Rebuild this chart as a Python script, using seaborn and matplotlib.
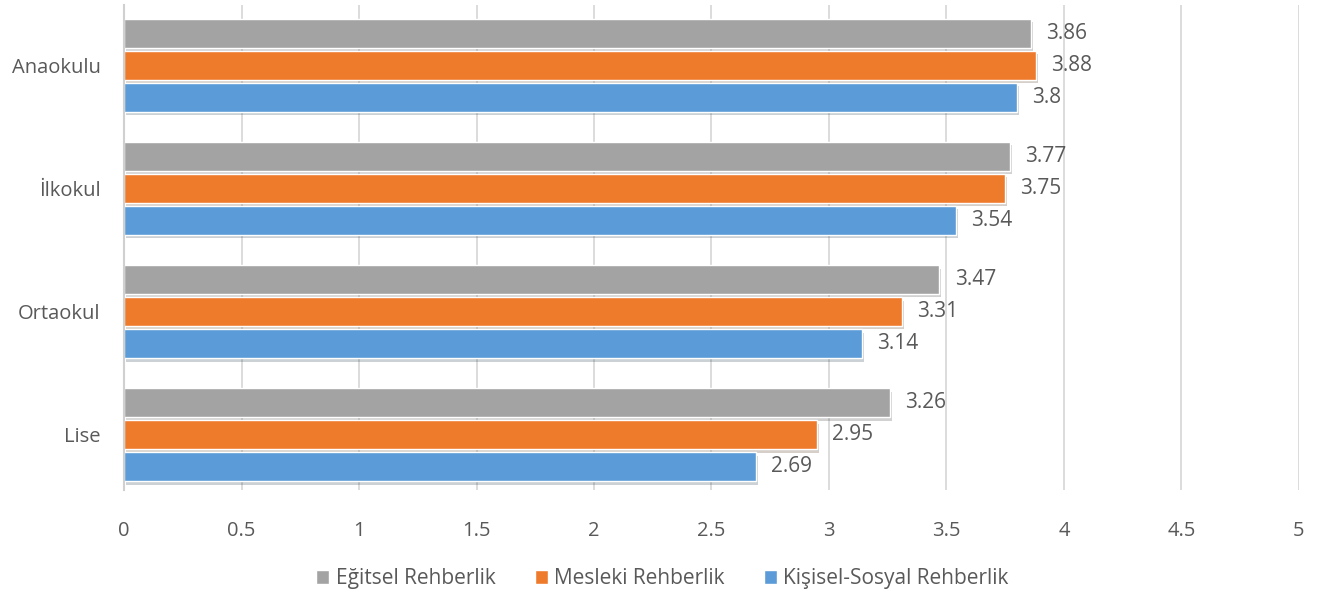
import matplotlib
matplotlib.use("Agg")
import matplotlib.pyplot as plt
import matplotlib.patheffects as pe
import seaborn as sns
import pandas as pd

# data
levels = ["Anaokulu", "İlkokul", "Ortaokul", "Lise"]
series = ["Eğitsel Rehberlik", "Mesleki Rehberlik", "Kişisel-Sosyal Rehberlik"]
egitsel = [3.86, 3.77, 3.47, 3.26]
mesleki = [3.88, 3.75, 3.31, 2.95]
kisisel = [3.80, 3.54, 3.14, 2.69]
x_ticks = [0, 0.5, 1, 1.5, 2, 2.5, 3, 3.5, 4, 4.5, 5]
x_ticklabels = ["0", "0.5", "1", "1.5", "2", "2.5", "3", "3.5", "4", "4.5", "5"]

colors = ["#A3A3A3", "#EE7A2C", "#5A9BD8"]

df = pd.DataFrame({
    "level": levels * 3,
    "series": [series[0]] * 4 + [series[1]] * 4 + [series[2]] * 4,
    "value": egitsel + mesleki + kisisel,
})

sns.set_style("white")
plt.rcParams["font.family"] = ["Open Sans", "DejaVu Sans"]
text_color = "#595959"

fig = plt.figure(figsize=(13.2, 5.95), dpi=100)
ax = fig.add_axes([0.094, 0.176, 0.890, 0.816])

sns.barplot(data=df, x="value", y="level", hue="series", order=levels,
            hue_order=series, palette=colors, orient="h", width=0.78,
            saturation=1, gap=0.1, ax=ax, legend=True)

for bars in ax.containers:
    for b in bars:
        b.set_path_effects([pe.SimplePatchShadow(offset=(1.5, -2.5), alpha=0.22), pe.Normal()])
    ax.bar_label(bars, labels=[f"{v:g}" for v in bars.datavalues], padding=11,
                 fontsize=15, color=text_color)

ax.set_xlim(0, 5)
ax.set_ylim(3.45, -0.49)
ax.set_xticks(x_ticks)
ax.set_xticklabels(x_ticklabels)
ax.set_xlabel("")
ax.set_ylabel("")
ax.tick_params(axis="both", length=0, labelsize=14.5, labelcolor=text_color)
ax.tick_params(axis="x", pad=22)
ax.tick_params(axis="y", pad=17)
ax.xaxis.grid(True, color="#D9D9D9", linewidth=1.3)
ax.set_axisbelow(True)
for s in ["top", "right", "bottom"]:
    ax.spines[s].set_visible(False)
ax.spines["left"].set_color("#D0D0D0")
ax.spines["left"].set_linewidth(1.5)

handles, labs = ax.get_legend_handles_labels()
ax.get_legend().remove()
fig.legend(handles, labs, loc="center", bbox_to_anchor=(0.502, 0.027), ncol=3,
           frameon=False, fontsize=15, labelcolor=text_color, handlelength=0.62,
           handleheight=0.62, handletextpad=0.3, columnspacing=1.9)

fig.savefig("out.png", dpi=100)
